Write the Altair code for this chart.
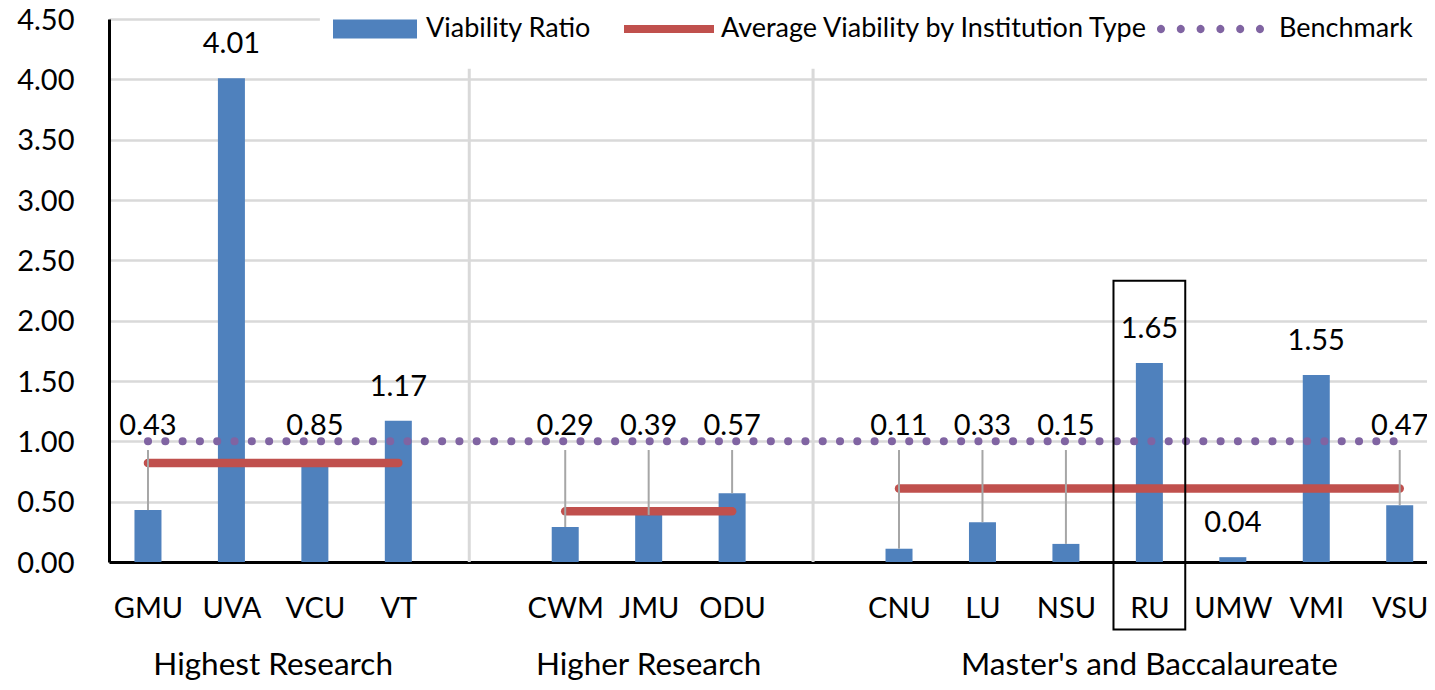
import altair as alt
import pandas as pd

# ---------------- data ----------------
institutions = ["GMU", "UVA", "VCU", "VT", "CWM", "JMU", "ODU",
                "CNU", "LU", "NSU", "RU", "UMW", "VMI", "VSU"]
inst_type = (["Highest Research"] * 4 + ["Higher Research"] * 3
             + ["Master's and Baccalaureate"] * 7)
viability = [0.43, 4.01, 0.85, 1.17, 0.29, 0.39, 0.57,
             0.11, 0.33, 0.15, 1.65, 0.04, 1.55, 0.47]
group_names = ["Highest Research", "Higher Research", "Master's and Baccalaureate"]
group_avg = [0.82, 0.42, 0.61]
benchmark = 1.00
highlighted = "RU"
callout_labels = ["GMU", "VCU", "CWM", "JMU", "ODU", "CNU", "LU", "NSU", "VSU"]
leader_lines = ["GMU", "CWM", "JMU", "ODU", "CNU", "LU", "NSU", "VSU"]
series = ["Viability Ratio", "Average Viability by Institution Type", "Benchmark"]
y_ticks = [0, 0.5, 1.0, 1.5, 2.0, 2.5, 3.0, 3.5, 4.0, 4.5]

# ---------------- styles ----------------
BLUE, RED, PURPLE = "#4F81BD", "#C0504D", "#8064A2"
GRID = "#d9d9d9"
FONT = "Lato"
FS = 29

# slot positions: one blank slot between institution types
pos = [i + group_names.index(t) for i, t in enumerate(inst_type)]
n_slots = max(pos) + 1
slot_names = [""] * n_slots
for p, name in zip(pos, institutions):
    slot_names[p] = name

bars = pd.DataFrame({"inst": institutions, "type": inst_type, "pos": pos,
                     "value": viability})
bars["label"] = bars["value"].map(lambda v: f"{v:.2f}")

above = bars[~bars["inst"].isin(callout_labels)]
callout = bars[bars["inst"].isin(callout_labels)].copy()
callout["ly"] = 1.052
leaders = bars[bars["inst"].isin(leader_lines)].copy()
leaders["top"] = 0.928

grp = bars.groupby("type", sort=False)["pos"].agg(["min", "max"]).reindex(group_names)
avg = pd.DataFrame({"type": group_names, "start": grp["min"].values,
                    "end": grp["max"].values, "avg": group_avg})
avg["mid"] = (avg["start"] + avg["end"]) / 2
avg["ly"] = -0.936

bench = pd.DataFrame({"start": [min(pos)], "end": [max(pos)], "value": [benchmark]})

hp = pos[institutions.index(highlighted)]
box = pd.DataFrame({"x": [hp - 0.43], "x2": [hp + 0.43], "y": [2.33], "y2": [-0.56]})

dividers = pd.DataFrame({"x": [3.85, 7.97], "y": [0.0, 0.0], "y2": [4.09, 4.09]})

PLOT_W, PLOT_H = 1318, 543
slot_px = 83.45
x_dom = [-0.467, -0.467 + PLOT_W / slot_px]
cover = pd.DataFrame({"x": [2.06], "x2": [x_dom[1]], "y": [4.09], "y2": [4.8]})

legend_df = pd.DataFrame({"series": series})

xs = alt.Scale(domain=x_dom, nice=False, zero=False, padding=0)
ys = alt.Scale(domain=[0, 4.5], nice=False, zero=False, padding=0)

label_expr = "[" + ",".join("'" + s + "'" for s in slot_names) + "][datum.value]"

x_axis = alt.Axis(values=pos, labelExpr=label_expr, ticks=False, grid=False,
                  domainColor="black", domainWidth=3, labelFontSize=FS,
                  labelFont=FONT, labelColor="black", labelPadding=32,
                  labelFlush=False, labelOverlap=False, title=None)
y_axis = alt.Axis(values=y_ticks, format=".2f", ticks=False, grid=True,
                  gridColor=GRID, gridWidth=2.5, domainColor="black",
                  domainWidth=3, labelFontSize=FS, labelFont=FONT,
                  labelColor="black", labelPadding=35, labelBaseline="alphabetic",
                  labelOffset=10, title=None)

base_bars = alt.Chart(bars).mark_bar(size=27, color=BLUE).encode(
    x=alt.X("pos:Q", scale=xs, axis=x_axis),
    y=alt.Y("value:Q", scale=ys, axis=y_axis),
)

div_layer = alt.Chart(dividers).mark_rule(color=GRID, strokeWidth=3).encode(
    x=alt.X("x:Q", scale=xs), y=alt.Y("y:Q", scale=ys), y2="y2:Q")

cover_layer = alt.Chart(cover).mark_rect(color="white").encode(
    x=alt.X("x:Q", scale=xs), x2="x2:Q", y=alt.Y("y:Q", scale=ys), y2="y2:Q")

avg_layer = alt.Chart(avg).mark_rule(color=RED, strokeWidth=8.5, strokeCap="round").encode(
    x=alt.X("start:Q", scale=xs), x2="end:Q", y=alt.Y("avg:Q", scale=ys))

bench_layer = alt.Chart(bench).mark_rule(
    color=PURPLE, strokeWidth=8, strokeCap="round", strokeDash=[0.1, 17.2]
).encode(x=alt.X("start:Q", scale=xs), x2="end:Q", y=alt.Y("value:Q", scale=ys))

leader_layer = alt.Chart(leaders).mark_rule(color="#a6a6a6", strokeWidth=2).encode(
    x=alt.X("pos:Q", scale=xs), y=alt.Y("top:Q", scale=ys), y2="value:Q")

above_text = alt.Chart(above).mark_text(
    font=FONT, fontSize=FS, color="black", baseline="alphabetic", dy=-25
).encode(x=alt.X("pos:Q", scale=xs), y=alt.Y("value:Q", scale=ys), text="label:N")

callout_text = alt.Chart(callout).mark_text(
    font=FONT, fontSize=FS, color="black", baseline="alphabetic"
).encode(x=alt.X("pos:Q", scale=xs), y=alt.Y("ly:Q", scale=ys), text="label:N")

group_text = alt.Chart(avg).mark_text(
    font=FONT, fontSize=31.5, color="black", baseline="alphabetic"
).encode(x=alt.X("mid:Q", scale=xs), y=alt.Y("ly:Q", scale=ys), text="type:N")

box_layer = alt.Chart(box).mark_rect(fill="transparent", stroke="black", strokeWidth=2).encode(
    x=alt.X("x:Q", scale=xs), x2="x2:Q", y=alt.Y("y:Q", scale=ys), y2="y2:Q")

# ---------------- legend symbols (custom paths, unit square -1..1) ----------------
W = 120
u = 2.0 / W  # px -> symbol units
half = W / 2


def rect_path(w, h, right_gap):
    x2 = (half - right_gap) * u
    x1 = x2 - w * u
    b = h / 2 * u
    return f"M{x1:.4f},{-b:.4f}H{x2:.4f}V{b:.4f}H{x1:.4f}Z"


def dots_path(n, span, d, right_gap):
    r = d / 2 * u
    x_right = (half - right_gap - d / 2) * u
    step = (span - d) / (n - 1) * u
    parts = []
    for k in range(n):
        cx = x_right - (n - 1 - k) * step
        parts.append(f"M{cx - r:.4f},0a{r:.4f},{r:.4f} 0 1,0 {2*r:.4f},0"
                     f"a{r:.4f},{r:.4f} 0 1,0 {-2*r:.4f},0Z")
    return "".join(parts)


shape_paths = [rect_path(84, 19, 5), rect_path(90, 8, 3), dots_path(6, 107, 8, 11)]

leg = alt.Legend(title=None, orient="none", legendX=193, legendY=-50,
                 direction="horizontal", symbolSize=W * W, symbolStrokeWidth=0,
                 symbolOpacity=1, labelFont=FONT, labelFontSize=27,
                 labelColor="black", columnPadding=5, labelOffset=4,
                 padding=0, labelLimit=0)

legend_layer = alt.Chart(legend_df).mark_point(filled=True, opacity=0).encode(
    color=alt.Color("series:N", scale=alt.Scale(domain=series, range=[BLUE, RED, PURPLE]),
                    legend=leg),
    shape=alt.Shape("series:N", scale=alt.Scale(domain=series, range=shape_paths),
                    legend=leg),
)

chart = alt.layer(
    div_layer, cover_layer, base_bars, avg_layer, bench_layer, leader_layer,
    above_text, callout_text, group_text, box_layer, legend_layer
).properties(
    width=PLOT_W, height=PLOT_H,
    autosize=alt.AutoSizeParams(type="none"),
    padding={"left": 101, "top": 11, "right": 0, "bottom": 120},
).configure_view(stroke=None).configure(font=FONT)

chart.save("out.html", embed_options={"renderer": "svg", "actions": False})
